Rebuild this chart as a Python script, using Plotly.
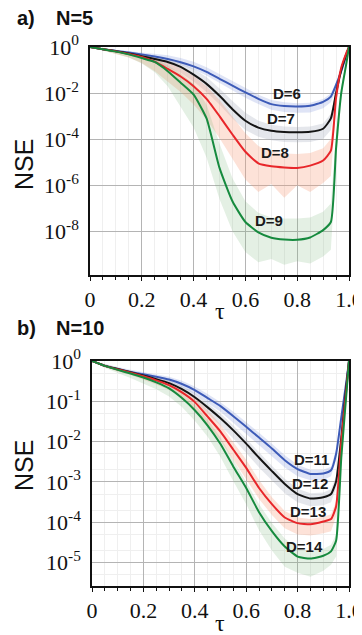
import plotly.graph_objects as go

# ---------------- data (log10 of NSE) ----------------
tau = [0, 0.05, 0.1, 0.15, 0.2, 0.25, 0.3, 0.35, 0.4, 0.45, 0.5, 0.55, 0.6, 0.65,
       0.7, 0.75, 0.8, 0.85, 0.9, 0.93, 0.95, 0.97, 0.99, 1.0]

# panel a) N=5
a_D6 = [0, -0.1, -0.17, -0.24, -0.32, -0.41, -0.52, -0.66, -0.84, -1.08, -1.38, -1.68, -1.97, -2.25,
        -2.48, -2.56, -2.58, -2.55, -2.38, -2.15, -1.65, -1.05, -0.35, 0]
a_D7 = [0, -0.1, -0.18, -0.28, -0.4, -0.52, -0.65, -0.86, -1.2, -1.6, -2.12, -2.7, -3.2, -3.5,
        -3.64, -3.69, -3.7, -3.68, -3.55, -3.1, -2.0, -1.0, -0.3, 0]
a_D8 = [0, -0.1, -0.19, -0.3, -0.43, -0.64, -0.95, -1.28, -1.7, -2.25, -3.0, -3.8, -4.55, -5.05,
        -5.18, -5.23, -5.25, -5.15, -4.93, -4.5, -2.2, -0.9, -0.25, 0]
a_D9 = [0, -0.1, -0.2, -0.32, -0.48, -0.65, -1.05, -1.55, -2.07, -3.1, -5.25, -6.7, -7.6, -8.05,
        -8.28, -8.36, -8.37, -8.27, -7.95, -7.6, -4.4, -2.0, -0.7, 0]

a_D6_hi = [0, -0.06, -0.12, -0.17, -0.22, -0.28, -0.36, -0.48, -0.64, -0.88, -1.18, -1.48, -1.78, -2.07,
           -2.3, -2.4, -2.44, -2.42, -2.26, -2.02, -1.52, -0.95, -0.3, 0]
a_D6_lo = [0, -0.13, -0.22, -0.3, -0.4, -0.5, -0.62, -0.78, -0.98, -1.24, -1.56, -1.88, -2.2, -2.48,
           -2.72, -2.82, -2.86, -2.84, -2.66, -2.4, -1.85, -1.2, -0.4, 0]
a_D7_hi = [0, -0.07, -0.13, -0.2, -0.3, -0.4, -0.5, -0.68, -0.95, -1.3, -1.8, -2.35, -2.85, -3.2,
           -3.38, -3.45, -3.47, -3.45, -3.32, -2.9, -1.85, -0.9, -0.25, 0]
a_D7_lo = [0, -0.14, -0.24, -0.36, -0.5, -0.68, -0.88, -1.12, -1.5, -1.95, -2.5, -3.1, -3.6, -3.9,
           -4.05, -4.12, -4.14, -4.12, -4.0, -3.6, -2.3, -1.2, -0.4, 0]
a_D8_hi = [0, -0.07, -0.14, -0.22, -0.32, -0.46, -0.66, -0.92, -1.25, -1.7, -2.3, -3.0, -3.75, -4.3,
           -4.55, -4.62, -4.65, -4.6, -4.4, -4.0, -2.0, -0.8, -0.2, 0]
a_D8_lo = [0, -0.16, -0.3, -0.46, -0.7, -1.05, -1.5, -1.95, -2.5, -3.15, -3.95, -4.85, -5.75, -6.3,
           -5.95, -6.55, -6.0, -6.3, -5.9, -5.6, -2.6, -1.1, -0.3, 0]
a_D9_hi = [0, -0.07, -0.14, -0.24, -0.36, -0.5, -0.8, -1.15, -1.6, -2.5, -4.2, -5.7, -6.7, -7.2,
           -7.4, -7.45, -7.45, -7.4, -7.15, -6.8, -3.8, -1.7, -0.5, 0]
a_D9_lo = [0, -0.16, -0.3, -0.46, -0.72, -1.1, -1.7, -2.6, -3.5, -4.8, -6.6, -8.0, -8.9, -9.35,
           -9.2, -9.45, -9.3, -9.4, -9.1, -8.8, -5.0, -2.3, -0.8, 0]

# panel b) N=10
b_D11 = [0, -0.12, -0.2, -0.27, -0.33, -0.39, -0.46, -0.57, -0.72, -0.92, -1.12, -1.37, -1.63, -1.9,
         -2.17, -2.46, -2.68, -2.8, -2.79, -2.71, -2.3, -1.4, -0.5, 0]
b_D12 = [0, -0.12, -0.2, -0.28, -0.36, -0.45, -0.55, -0.7, -0.9, -1.15, -1.42, -1.72, -2.05, -2.4,
         -2.73, -3.05, -3.3, -3.41, -3.38, -3.3, -2.98, -1.9, -0.6, 0]
b_D13 = [0, -0.12, -0.21, -0.29, -0.38, -0.48, -0.6, -0.78, -1.02, -1.38, -1.75, -2.2, -2.65, -3.15,
         -3.55, -3.88, -4.02, -4.05, -3.98, -3.92, -3.6, -2.0, -0.7, 0]
b_D14 = [0, -0.12, -0.22, -0.31, -0.41, -0.53, -0.68, -0.92, -1.22, -1.6, -2.06, -2.62, -3.15, -3.75,
         -4.22, -4.6, -4.85, -4.9, -4.83, -4.72, -4.45, -2.4, -0.8, 0]

b_D11_hi = [0, -0.08, -0.15, -0.22, -0.28, -0.33, -0.39, -0.49, -0.63, -0.82, -1.02, -1.26, -1.51, -1.78,
            -2.05, -2.34, -2.57, -2.7, -2.7, -2.62, -2.2, -1.3, -0.45, 0]
b_D11_lo = [0, -0.15, -0.24, -0.32, -0.39, -0.45, -0.53, -0.65, -0.82, -1.04, -1.26, -1.52, -1.8, -2.08,
            -2.36, -2.64, -2.86, -2.96, -2.95, -2.86, -2.45, -1.5, -0.55, 0]
b_D12_hi = [0, -0.09, -0.17, -0.24, -0.31, -0.39, -0.48, -0.62, -0.8, -1.04, -1.3, -1.6, -1.92, -2.26,
            -2.6, -2.92, -3.17, -3.28, -3.26, -3.18, -2.85, -1.8, -0.55, 0]
b_D12_lo = [0, -0.14, -0.24, -0.33, -0.42, -0.52, -0.64, -0.8, -1.03, -1.3, -1.6, -1.92, -2.28, -2.64,
            -2.97, -3.28, -3.5, -3.6, -3.58, -3.5, -3.15, -2.0, -0.65, 0]
b_D13_hi = [0, -0.09, -0.17, -0.24, -0.32, -0.41, -0.52, -0.68, -0.9, -1.22, -1.58, -2.0, -2.45, -2.95,
            -3.38, -3.72, -3.88, -3.92, -3.86, -3.8, -3.48, -1.9, -0.65, 0]
b_D13_lo = [0, -0.15, -0.26, -0.35, -0.46, -0.58, -0.72, -0.92, -1.2, -1.58, -1.98, -2.45, -2.92, -3.42,
            -3.82, -4.15, -4.3, -4.33, -4.27, -4.22, -3.85, -2.1, -0.75, 0]
b_D14_hi = [0, -0.09, -0.17, -0.25, -0.34, -0.44, -0.58, -0.8, -1.08, -1.45, -1.9, -2.45, -2.98, -3.55,
            -4.02, -4.4, -4.65, -4.72, -4.66, -4.56, -4.3, -2.3, -0.75, 0]
b_D14_lo = [0, -0.17, -0.3, -0.42, -0.55, -0.7, -0.88, -1.14, -1.48, -1.88, -2.38, -2.98, -3.55, -4.2,
            -4.7, -5.1, -5.25, -5.35, -5.2, -5.05, -4.85, -2.6, -0.9, 0]

series_a = [("D=6", a_D6, a_D6_lo, a_D6_hi), ("D=7", a_D7, a_D7_lo, a_D7_hi),
            ("D=8", a_D8, a_D8_lo, a_D8_hi), ("D=9", a_D9, a_D9_lo, a_D9_hi)]
series_b = [("D=11", b_D11, b_D11_lo, b_D11_hi), ("D=12", b_D12, b_D12_lo, b_D12_hi),
            ("D=13", b_D13, b_D13_lo, b_D13_hi), ("D=14", b_D14, b_D14_lo, b_D14_hi)]

# label anchor points (tau, log10 NSE)
labels_a = [(0.76, -2.0), (0.737, -3.12), (0.714, -4.58), (0.691, -7.55)]
labels_b = [(0.855, -2.44), (0.848, -3.04), (0.842, -3.73), (0.826, -4.59)]

xticks = [0, 0.2, 0.4, 0.6, 0.8, 1.0]
xtick_text = ["0", "0.2", "0.4", "0.6", "0.8", "1.0"]
yticks_a = [0, -2, -4, -6, -8]
yticks_b = [0, -1, -2, -3, -4, -5]

line_colors = ["#3d5bb8", "#141414", "#e8262a", "#168a3e"]
band_colors = ["rgba(110,130,215,0.22)", "rgba(150,160,180,0.25)",
               "rgba(248,150,115,0.28)", "rgba(120,180,120,0.20)"]

fig = go.Figure()

def add_panel(series, labels, xa, ya):
    for i, (name, y, lo, hi) in enumerate(series):
        fig.add_trace(go.Scatter(
            x=tau + tau[::-1], y=[10 ** v for v in hi] + [10 ** v for v in lo[::-1]],
            fill="toself", fillcolor=band_colors[i], line=dict(width=0),
            mode="lines", hoverinfo="skip", showlegend=False, xaxis=xa, yaxis=ya))
    for i, (name, y, lo, hi) in enumerate(series):
        fig.add_trace(go.Scatter(
            x=tau, y=[10 ** v for v in y], mode="lines", name=name,
            line=dict(color=line_colors[i], width=2, shape="spline", smoothing=0.5),
            showlegend=False, xaxis=xa, yaxis=ya))
        lx, ly = labels[i]
        fig.add_annotation(x=lx, y=ly, xref=xa, yref=ya, text="<b>%s</b>" % name,
                           showarrow=False, xanchor="center", yanchor="middle",
                           font=dict(family="Liberation Sans", size=15, color="#1a1a1a"))

add_panel(series_a, labels_a, "x", "y")
add_panel(series_b, labels_b, "x2", "y2")

# the page body adds an 8px offset; figure coordinates = page coordinates - 8
OFF = 8
W, H = 362 - OFF, 635 - OFF
tickfont = dict(family="Liberation Serif", size=22, color="#111")

def px_x(p):
    return (p - OFF) / W

def px_y(p):
    return 1 - (p - OFF) / H

def xaxis_cfg(x0):
    return dict(domain=[px_x(x0), px_x(349)], range=[0, 1], tickvals=xticks, ticktext=xtick_text,
                automargin=False, ticklabeloverflow="allow",
                showgrid=True, gridcolor="#b4b4b4", gridwidth=1, zeroline=False,
                showline=True, linecolor="#111", linewidth=1.5, mirror=True,
                ticks="outside", ticklen=4, tickcolor="#111", tickfont=tickfont,
                minor=dict(dtick=0.05, tick0=0, showgrid=True, gridcolor="#efefef",
                           ticks="outside", ticklen=3, tickcolor="#111"))

def yaxis_cfg(top, bottom, rng, ticks, anchor, minor_grid):
    cfg = dict(domain=[px_y(bottom), px_y(top)], type="log", range=rng,
               tickvals=[10 ** t for t in ticks],
               ticktext=["10<sup>%d</sup>" % t for t in ticks],
               automargin=False, ticklabeloverflow="allow", ticklabelstandoff=5,
               showgrid=True, gridcolor="#b4b4b4", gridwidth=1, zeroline=False,
               showline=True, linecolor="#111", linewidth=1.5, mirror=True, ticks="",
               tickfont=tickfont, anchor=anchor)
    if minor_grid:
        cfg["minor"] = dict(showgrid=True, gridcolor="#efefef")
    return cfg

fig.update_layout(
    width=W, height=H, margin=dict(l=0, r=0, t=0, b=0, autoexpand=False),
    paper_bgcolor="white", plot_bgcolor="white", showlegend=False,
    xaxis=dict(xaxis_cfg(90), anchor="y"),
    xaxis2=dict(xaxis_cfg(92), anchor="y2"),
    yaxis=yaxis_cfg(47, 275, [-9.9, 0], yticks_a, "x", False),
    yaxis2=yaxis_cfg(361, 586, [-5.58, 0], yticks_b, "x2", True),
)

title_font = dict(family="Liberation Sans", size=20, color="#111")
for txt, px, py in [("<b>a)</b>", 15, 18), ("<b>N=5</b>", 54, 18),
                    ("<b>b)</b>", 15, 328), ("<b>N=10</b>", 54, 328)]:
    fig.add_annotation(x=px_x(px), y=px_y(py), xref="paper", yref="paper", text=txt,
                       showarrow=False, xanchor="left", yanchor="middle", font=title_font)

for py in [165, 466]:
    fig.add_annotation(x=px_x(24), y=px_y(py), xref="paper", yref="paper", text="NSE",
                       textangle=-90, showarrow=False, xanchor="center", yanchor="middle",
                       font=dict(family="Liberation Sans", size=25, color="#111"))

for py in [311, 623]:
    fig.add_annotation(x=px_x(220), y=px_y(py), xref="paper", yref="paper", text="τ",
                       showarrow=False, xanchor="center", yanchor="middle",
                       font=dict(family="Liberation Serif", size=24, color="#111"))

fig.write_html("out.html")
